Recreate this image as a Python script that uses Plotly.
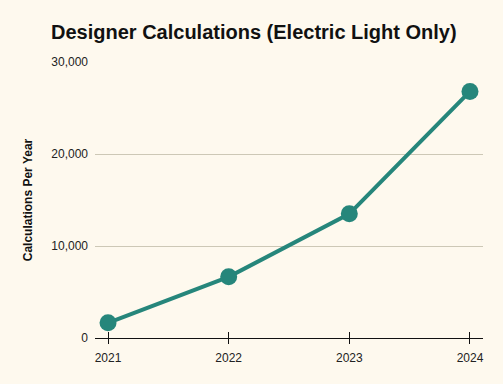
import plotly.graph_objects as go

years = [2021, 2022, 2023, 2024]
calculations = [1650, 6650, 13500, 26800]
tick_vals_y = [0, 10000, 20000, 30000]
tick_text_y = ["0", "10,000", "20,000", "30,000"]

bg = "#FEF9EE"
teal = "#26867B"

fig = go.Figure()
fig.add_trace(go.Scatter(
    x=years, y=calculations, mode="lines+markers",
    line=dict(color=teal, width=4),
    marker=dict(color=teal, size=17),
    showlegend=False, hoverinfo="skip",
))
# dummy trace on overlay axis for crossing tick marks
fig.add_trace(go.Scatter(x=years, y=[None]*4, xaxis="x2", showlegend=False, hoverinfo="skip"))

fig.update_layout(
    width=503, height=384,
    paper_bgcolor=bg, plot_bgcolor=bg,
    margin=dict(l=95, r=20, t=62, b=46),
    font=dict(family="Liberation Sans, Arial, sans-serif", color="#222", size=12),
    title=dict(
        text="<b>Designer Calculations (Electric Light Only)</b>",
        x=51/503, xanchor="left", y=1-32/384, yanchor="middle",
        font=dict(size=20, color="#111"),
    ),
    xaxis=dict(
        range=[2020.892, 2024.108],
        tickvals=years, ticktext=[str(y) for y in years],
        showgrid=False, zeroline=False,
        showline=True, linecolor="#111", linewidth=1.2,
        ticks="outside", ticklen=5, tickcolor="#111", tickwidth=1,
        ticklabelstandoff=3,
        tickfont=dict(size=12, color="#222"),
        fixedrange=True,
    ),
    xaxis2=dict(
        overlaying="x", matches="x", range=[2020.892, 2024.108],
        tickvals=years, showticklabels=False, showgrid=False, zeroline=False,
        ticks="inside", ticklen=6, tickcolor="#111", tickwidth=1,
        anchor="y", side="bottom",
    ),
    yaxis=dict(
        range=[0, 30000],
        tickvals=tick_vals_y, ticktext=tick_text_y,
        showgrid=True, gridcolor="#CDC8B6", gridwidth=1,
        zeroline=False, showline=False,
        ticks="", ticklabelstandoff=6,
        tickfont=dict(size=12, color="#222"),
        title=dict(text="<b>Calculations Per Year</b>", font=dict(size=12, color="#111"), standoff=16),
        fixedrange=True,
    ),
)

fig.write_html(
    "out.html",
    config={"displayModeBar": False, "staticPlot": True},
    post_script="document.body.style.margin='0';document.body.style.background='" + bg + "';",
)
